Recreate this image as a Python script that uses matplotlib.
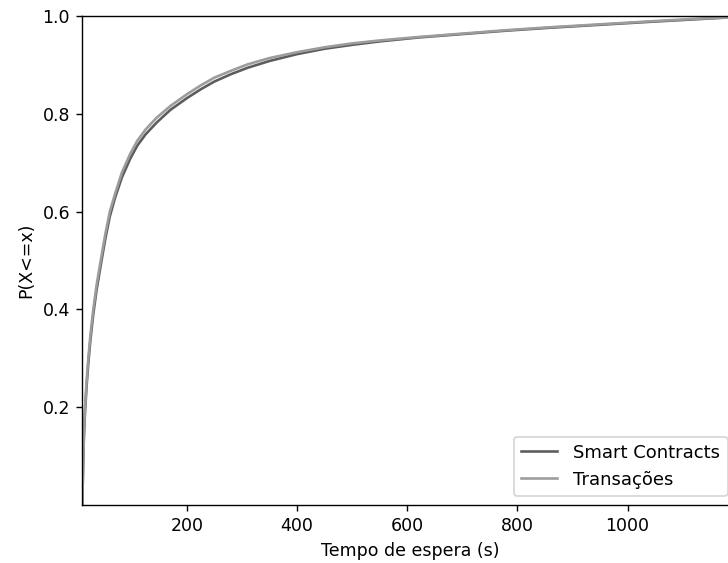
import matplotlib
matplotlib.use("Agg")
import matplotlib.pyplot as plt

# Waiting-time CDF samples (seconds, cumulative probability)
smart_x = [10, 11, 12, 13, 15, 18, 21, 25, 30, 36, 45, 52, 60, 70, 82, 97, 110, 125,
           145, 170, 200, 225, 250, 280, 310, 350, 400, 450, 500, 550, 620, 700, 780,
           860, 950, 1040, 1120, 1183, 1200]
smart_y = [0.0, 0.05, 0.10, 0.14, 0.19, 0.245, 0.29, 0.34, 0.39, 0.44, 0.50, 0.545, 0.59,
           0.63, 0.67, 0.708, 0.735, 0.758, 0.782, 0.808, 0.832, 0.850, 0.866, 0.881,
           0.894, 0.908, 0.922, 0.933, 0.941, 0.948, 0.956, 0.963, 0.970, 0.976,
           0.982, 0.988, 0.993, 0.997, 1.0]

trans_x = [10, 11, 12, 13, 15, 18, 21, 25, 30, 36, 45, 52, 60, 70, 82, 97, 110, 125,
           145, 170, 200, 225, 250, 280, 310, 350, 400, 450, 500, 550, 620, 700, 780,
           860, 950, 1040, 1120, 1183, 1200]
trans_y = [0.0, 0.05, 0.10, 0.145, 0.20, 0.255, 0.30, 0.35, 0.40, 0.45, 0.51, 0.555, 0.60,
           0.638, 0.68, 0.718, 0.745, 0.768, 0.792, 0.816, 0.840, 0.858, 0.874, 0.888,
           0.901, 0.914, 0.926, 0.936, 0.944, 0.950, 0.957, 0.964, 0.971, 0.977,
           0.983, 0.989, 0.994, 0.997, 1.0]

x_ticks = [200, 400, 600, 800, 1000]
y_ticks = [0.2, 0.4, 0.6, 0.8, 1.0]

fig = plt.figure(figsize=(728 / 125, 563 / 125), dpi=125)
ax = fig.add_axes([0.1130, 0.1030, 0.9003, 0.8686])

ax.plot(smart_x, smart_y, color="#5c5c5c", linewidth=1.5, label="Smart Contracts")
ax.plot(trans_x, trans_y, color="#9c9c9c", linewidth=1.5, label="Transações")

ax.set_xlim(10, 1200)
ax.set_ylim(0, 1.0)
ax.set_xticks(x_ticks)
ax.set_yticks(y_ticks)
ax.set_xlabel("Tempo de espera (s)")
ax.set_ylabel("P(X<=x)")
ax.legend(loc="lower right", prop={"size": 10.4}, handletextpad=0.9,
          bbox_to_anchor=(0.9985, 0.0), borderaxespad=0.5)

fig.savefig("out.png", dpi=125)
